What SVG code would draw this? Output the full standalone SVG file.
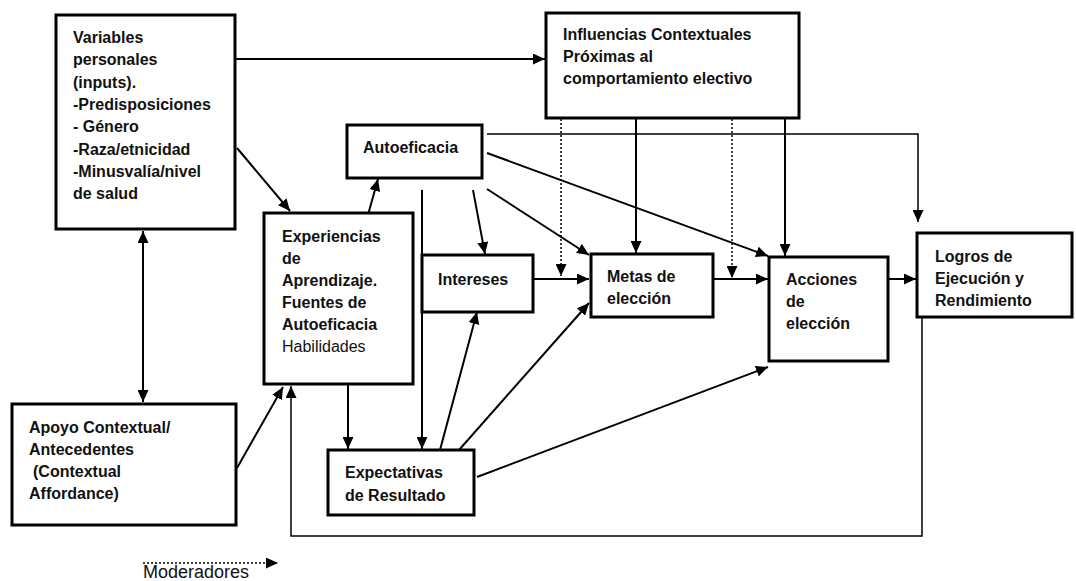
<svg xmlns="http://www.w3.org/2000/svg" width="1076" height="581" viewBox="0 0 1076 581">
<style>
.box{fill:#fff;stroke:#000;stroke-width:3}
.t{font-family:"Liberation Sans",Arial,sans-serif;font-size:16px;font-weight:bold;fill:#111}
.n{font-weight:normal}
.c{fill:none;stroke:#000;stroke-width:2}
.thin{fill:none;stroke:#000;stroke-width:1.5}
.dot{fill:none;stroke:#000;stroke-width:1.5;stroke-dasharray:2 2}
</style>
<defs>
<marker id="a" markerUnits="userSpaceOnUse" markerWidth="12" markerHeight="11" refX="12" refY="5.5" orient="auto-start-reverse">
<path d="M0,0 L12,5.5 L0,11 z" fill="#000"/>
</marker>
</defs>
<rect width="1076" height="581" fill="#fff"/>
<g id="connectors">
<line class="c" x1="235" y1="59" x2="545" y2="59" marker-end="url(#a)"/>
<line class="c" x1="143" y1="231" x2="143" y2="402" marker-start="url(#a)" marker-end="url(#a)"/>
<line class="c" x1="237" y1="148" x2="290" y2="211" marker-end="url(#a)"/>
<line class="c" x1="237" y1="468" x2="283" y2="387" marker-end="url(#a)"/>
<line class="c" x1="366" y1="222" x2="378" y2="179" marker-end="url(#a)"/>
<line class="c" x1="348" y1="384" x2="348" y2="449" marker-end="url(#a)"/>
<line class="c" x1="422" y1="190" x2="422" y2="449" marker-end="url(#a)"/>
<line class="c" x1="473" y1="190" x2="485" y2="254" marker-end="url(#a)"/>
<line class="c" x1="487" y1="189" x2="589" y2="255" marker-end="url(#a)"/>
<line class="c" x1="487" y1="153" x2="768" y2="256" marker-end="url(#a)"/>
<polyline class="thin" points="487,134 918,134 918,222" marker-end="url(#a)"/>
<line class="c" x1="534" y1="279" x2="589" y2="279" marker-end="url(#a)"/>
<line class="dot" x1="561" y1="119" x2="561" y2="276" marker-end="url(#a)"/>
<line class="c" x1="636" y1="119" x2="636" y2="253" marker-end="url(#a)"/>
<line class="c" x1="713" y1="279" x2="768" y2="279" marker-end="url(#a)"/>
<line class="dot" x1="732" y1="119" x2="732" y2="278" marker-end="url(#a)"/>
<line class="c" x1="785" y1="119" x2="785" y2="256" marker-end="url(#a)"/>
<line class="c" x1="880" y1="279" x2="916" y2="279" marker-end="url(#a)"/>
<line class="c" x1="440" y1="450" x2="477" y2="312" marker-end="url(#a)"/>
<line class="c" x1="459" y1="450" x2="589" y2="303" marker-end="url(#a)"/>
<line class="c" x1="477" y1="477" x2="768" y2="367" marker-end="url(#a)"/>
<polyline class="thin" points="922,317 922,536 291,536 291,386" marker-end="url(#a)"/>
<line class="dot" x1="143" y1="563" x2="278" y2="563" marker-end="url(#a)"/>
</g>
<g id="variables">
<rect class="box" x="56" y="15" width="179" height="214"/>
<text class="t"><tspan x="73" y="43">Variables</tspan><tspan x="73" y="65.3">personales</tspan><tspan x="73" y="87.6">(inputs).</tspan><tspan x="73" y="109.9">-Predisposiciones</tspan><tspan x="73" y="132.2">- Género</tspan><tspan x="73" y="154.5">-Raza/etnicidad</tspan><tspan x="73" y="176.8">-Minusvalía/nivel</tspan><tspan x="73" y="199.1">de salud</tspan></text>
</g>
<g id="influencias">
<rect class="box" x="546" y="13" width="253" height="105"/>
<text class="t"><tspan x="563" y="40">Influencias Contextuales</tspan><tspan x="563" y="62">Próximas al</tspan><tspan x="563" y="84">comportamiento electivo</tspan></text>
</g>
<g id="autoeficacia">
<rect class="box" x="347" y="125" width="135" height="53"/>
<text class="t" x="363" y="153">Autoeficacia</text>
</g>
<g id="experiencias">
<rect class="box" x="264" y="213" width="149" height="171"/>
<text class="t"><tspan x="282" y="242">Experiencias</tspan><tspan x="282" y="264">de</tspan><tspan x="282" y="286">Aprendizaje.</tspan><tspan x="282" y="308">Fuentes de</tspan><tspan x="282" y="330">Autoeficacia</tspan><tspan class="n" x="282" y="352">Habilidades</tspan></text>
</g>
<g id="intereses">
<rect class="box" x="422" y="255" width="111" height="57"/>
<text class="t" x="438" y="285">Intereses</text>
</g>
<g id="metas">
<rect class="box" x="591" y="254" width="122" height="63"/>
<text class="t"><tspan x="607" y="282">Metas de</tspan><tspan x="607" y="304">elección</tspan></text>
</g>
<g id="acciones">
<rect class="box" x="769" y="257" width="119" height="104"/>
<text class="t"><tspan x="786" y="285">Acciones</tspan><tspan x="786" y="307">de</tspan><tspan x="786" y="329">elección</tspan></text>
</g>
<g id="logros">
<rect class="box" x="917" y="233" width="155" height="84"/>
<text class="t"><tspan x="935" y="262">Logros de</tspan><tspan x="935" y="284">Ejecución y</tspan><tspan x="935" y="306">Rendimiento</tspan></text>
</g>
<g id="apoyo">
<rect class="box" x="12" y="404" width="224" height="121"/>
<text class="t"><tspan x="29" y="433">Apoyo Contextual/</tspan><tspan x="29" y="455">Antecedentes</tspan><tspan x="33" y="477">(Contextual</tspan><tspan x="29" y="499">Affordance)</tspan></text>
</g>
<g id="expectativas">
<rect class="box" x="328" y="450" width="146" height="65"/>
<text class="t"><tspan x="345" y="478">Expectativas</tspan><tspan x="345" y="501">de Resultado</tspan></text>
</g>
<g id="legend">
<text class="t n" x="143" y="578" style="font-size:18px">Moderadores</text>
</g>
</svg>
